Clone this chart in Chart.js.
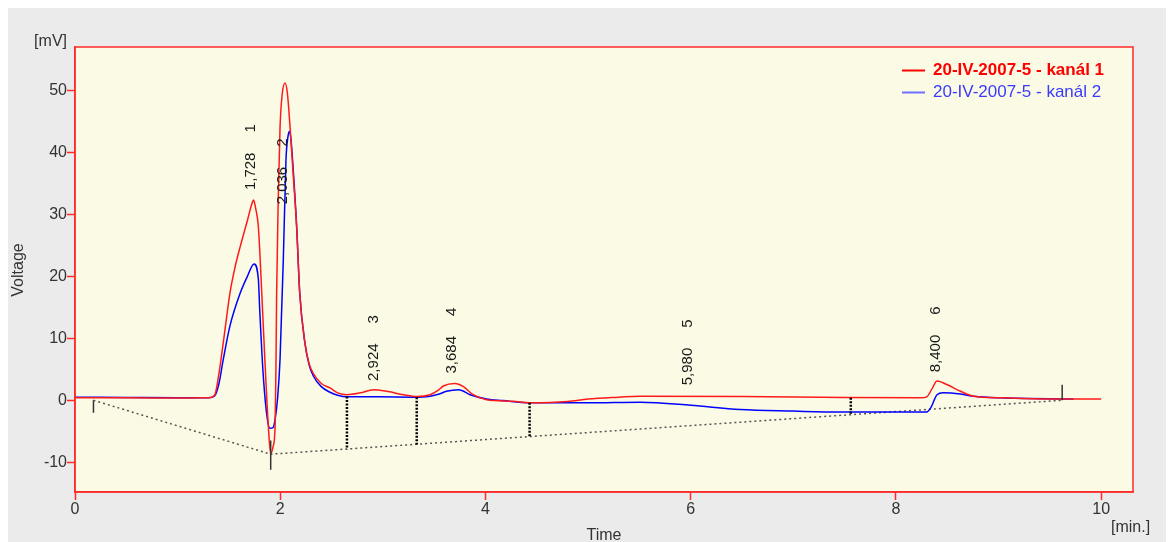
<!DOCTYPE html>
<html>
<head>
<meta charset="utf-8">
<script src="https://cdn.jsdelivr.net/npm/chart.js@4/dist/chart.umd.min.js"></script>
<style>
    body { margin: 8px; background: #fff; }
    #wrap { width: 1166px; height: 534px; background: #ebebeb; }
</style>
</head>
<body>
<div id="wrap"><canvas id="chart"></canvas></div>
<script>
// Chromatogram traces [time (min), voltage (mV)]
const redTrace = [[0,0.4],[0.5,0.4],[1.0,0.35],[1.30,0.4],[1.36,0.8],[1.40,4],[1.445,9.3],[1.51,17.3],[1.56,21.5],[1.61,24.8],[1.68,29],[1.72,31.5],[1.74,32.3],[1.76,31],[1.787,28],[1.82,17.3],[1.85,6.6],[1.884,-4.2],[1.907,-8.6],[1.93,-7.5],[1.95,-4.2],[1.958,5],[1.965,17.3],[1.98,32],[1.998,44],[2.02,49.5],[2.047,51.2],[2.07,49.5],[2.096,44],[2.128,36],[2.16,28],[2.19,17.3],[2.24,9.3],[2.28,6],[2.32,4.4],[2.40,2.7],[2.485,2.0],[2.56,1.2],[2.65,0.9],[2.78,1.2],[2.91,1.7],[3.05,1.4],[3.20,0.9],[3.33,0.6],[3.46,0.9],[3.53,1.5],[3.59,2.3],[3.70,2.7],[3.785,2.2],[3.88,0.9],[4.01,0.1],[4.27,-0.15],[4.43,-0.4],[4.8,-0.2],[5.0,0.2],[5.3,0.5],[5.5,0.65],[6.5,0.6],[7.5,0.45],[8.25,0.4],[8.30,0.55],[8.35,1.8],[8.40,3.1],[8.50,2.5],[8.63,1.45],[8.76,0.65],[9.02,0.4],[9.5,0.2],[10.0,0.2]];
const blueTrace = [[0,0.5],[0.5,0.45],[1.0,0.4],[1.30,0.4],[1.36,0.7],[1.40,2.5],[1.445,6.6],[1.51,12],[1.61,17.3],[1.68,20],[1.745,22],[1.787,19.5],[1.80,14.6],[1.835,3.9],[1.875,-3.1],[1.90,-4.5],[1.93,-4.4],[1.95,-3.1],[1.975,0.5],[1.998,6.6],[2.03,22.7],[2.056,38.8],[2.075,42.5],[2.09,43.4],[2.105,42],[2.12,38.8],[2.16,28],[2.19,17.3],[2.24,9.3],[2.28,5.8],[2.32,4.0],[2.40,2.2],[2.485,1.3],[2.56,0.8],[2.65,0.55],[2.97,0.55],[3.30,0.5],[3.46,0.65],[3.55,1.0],[3.62,1.45],[3.74,1.7],[3.85,0.9],[4.01,0.2],[4.17,-0.05],[4.43,-0.4],[5.0,-0.4],[5.51,-0.3],[6.0,-0.8],[6.48,-1.5],[7.0,-1.75],[7.46,-1.9],[8.30,-1.9],[8.34,-1.2],[8.40,0.9],[8.46,1.2],[8.63,1.0],[8.76,0.65],[9.02,0.4],[9.73,0.2]];

// integration baseline and markers
const baseline = [[0.18,0],[1.907,-8.7],[9.62,0]];
const dropTimes = [2.65, 3.33, 4.43, 7.56];
const dropTops = [0.6, 0.5, -0.4, 0.4];
const dropBottoms = [-7.9, -7.15, -5.9, -2.3];
const markTimes = [0.18, 1.907, 9.62];
const markFrom = [0, -6.5, 0];
const markTo = [-2, -11.2, 2.5];

// peaks
const peakTimes = [1.728, 2.036, 2.924, 3.684, 5.980, 8.400];
const peakNames = ['1,728', '2,036', '2,924', '3,684', '5,980', '8,400'];
const peakHeights = [32.3, 30, 1.5, 2.7, 0.8, 2.9];

const xTicks = [0, 2, 4, 6, 8, 10];
const yTicks = [-10, 0, 10, 20, 30, 40, 50];
const seriesNames = ['20-IV-2007-5 - kanál 1', '20-IV-2007-5 - kanál 2'];

const FONT = '"Liberation Sans", Arial, sans-serif';

function toPoints(arr) {
    return arr.map(p => ({ x: p[0], y: p[1] }));
}

function segments(times, from, to) {
    const pts = [];
    times.forEach((t, i) => {
        pts.push({ x: t, y: from[i] }, { x: t, y: to[i] }, { x: t, y: null });
    });
    return pts;
}

const decorPlugin = {
    id: 'decor',
    beforeDraw(chart) {
        const { ctx, chartArea: a } = chart;
        ctx.save();
        ctx.fillStyle = '#fbfbe5';
        ctx.fillRect(a.left, a.top, a.right - a.left, a.bottom - a.top);
        ctx.restore();
    },
    afterDraw(chart) {
        const { ctx, chartArea: a } = chart;
        const xs = chart.scales.x, ys = chart.scales.y;
        ctx.save();
        // frame
        ctx.strokeStyle = '#ff2a2a';
        ctx.lineWidth = 1.5;
        ctx.strokeRect(a.left, a.top, a.right - a.left, a.bottom - a.top);

        // peak labels
        ctx.fillStyle = '#1a1a1a';
        ctx.font = '15px ' + FONT;
        ctx.textBaseline = 'middle';
        ctx.textAlign = 'left';
        peakTimes.forEach((t, i) => {
            const px = xs.getPixelForValue(t) - 1;
            const py = ys.getPixelForValue(peakHeights[i]) - 10;
            ctx.save();
            ctx.translate(px, py);
            ctx.rotate(-Math.PI / 2);
            const w = ctx.measureText(peakNames[i]).width;
            ctx.fillText(peakNames[i], 0, 0);
            ctx.fillText(String(i + 1), w + 20, 0);
            ctx.restore();
        });

        // legend
        const colors = ['#ff0000', '#6f6fff'];
        const textColors = ['#ff0000', '#3a3aff'];
        seriesNames.forEach((name, i) => {
            const y = 62.5 + i * 22;
            ctx.strokeStyle = colors[i];
            ctx.lineWidth = 2;
            ctx.beginPath();
            ctx.moveTo(894, y);
            ctx.lineTo(917, y);
            ctx.stroke();
            ctx.fillStyle = textColors[i];
            ctx.font = (i === 0 ? 'bold ' : '') + '17px ' + FONT;
            ctx.textAlign = 'left';
            ctx.textBaseline = 'middle';
            ctx.fillText(name, 925, y);
        });

        // axis titles
        ctx.fillStyle = '#333';
        ctx.font = '16px ' + FONT;
        ctx.textAlign = 'right';
        ctx.textBaseline = 'middle';
        ctx.fillText('[mV]', 59, 34);
        ctx.textAlign = 'left';
        ctx.fillText('[min.]', 1103, 520);
        ctx.textAlign = 'center';
        ctx.fillText('Time', 596, 528);
        ctx.save();
        ctx.translate(11, 262);
        ctx.rotate(-Math.PI / 2);
        ctx.fillText('Voltage', 0, 0);
        ctx.restore();
        ctx.restore();
    }
};

const axisCommon = {
    type: 'linear',
    grid: { display: true, drawOnChartArea: false, drawTicks: true, tickLength: 8, tickColor: '#ff2a2a', tickWidth: 1.5 },
    border: { display: true, color: '#ff2a2a', width: 1.5 },
    ticks: { color: '#333', font: { family: FONT, size: 16 }, padding: 0 }
};

new Chart(document.getElementById('chart'), {
    type: 'line',
    data: {
        datasets: [
            { label: seriesNames[0], data: toPoints(redTrace), borderColor: '#ff1a1a', borderWidth: 1.5, order: 1 },
            { label: seriesNames[1], data: toPoints(blueTrace), borderColor: '#0000ff', borderWidth: 1.5, order: 2 },
            { label: 'baseline', data: toPoints(baseline), borderColor: '#555', borderWidth: 1.5, borderDash: [2, 3], order: 3, cubicInterpolationMode: 'default', tension: 0 },
            { label: 'drops', data: segments(dropTimes, dropTops, dropBottoms), borderColor: '#000', borderWidth: 2.5, borderDash: [2, 1.5], order: 0, tension: 0, cubicInterpolationMode: 'default' },
            { label: 'marks', data: segments(markTimes, markFrom, markTo), borderColor: '#333', borderWidth: 1.5, order: 0, tension: 0, cubicInterpolationMode: 'default' }
        ]
    },
    options: {
        responsive: true,
        maintainAspectRatio: false,
        animation: false,
        events: [],
        layout: { padding: { top: 39, right: 41, left: 0, bottom: 0 } },
        elements: {
            point: { radius: 0 },
            line: { cubicInterpolationMode: 'monotone', fill: false }
        },
        spanGaps: false,
        plugins: { legend: { display: false }, tooltip: { enabled: false } },
        scales: {
            x: {
                ...axisCommon,
                min: 0, max: 10.31,
                afterBuildTicks: s => { s.ticks = xTicks.map(v => ({ value: v })); },
                afterFit: s => { s.height = 50; },
                ticks: { ...axisCommon.ticks, maxRotation: 0, callback: v => String(v) }
            },
            y: {
                ...axisCommon,
                min: -14.8, max: 57,
                afterBuildTicks: s => { s.ticks = yTicks.map(v => ({ value: v })); },
                afterFit: s => { s.width = 67; },
                ticks: { ...axisCommon.ticks, callback: v => String(v) }
            }
        }
    },
    plugins: [decorPlugin]
});
</script>
</body>
</html>
